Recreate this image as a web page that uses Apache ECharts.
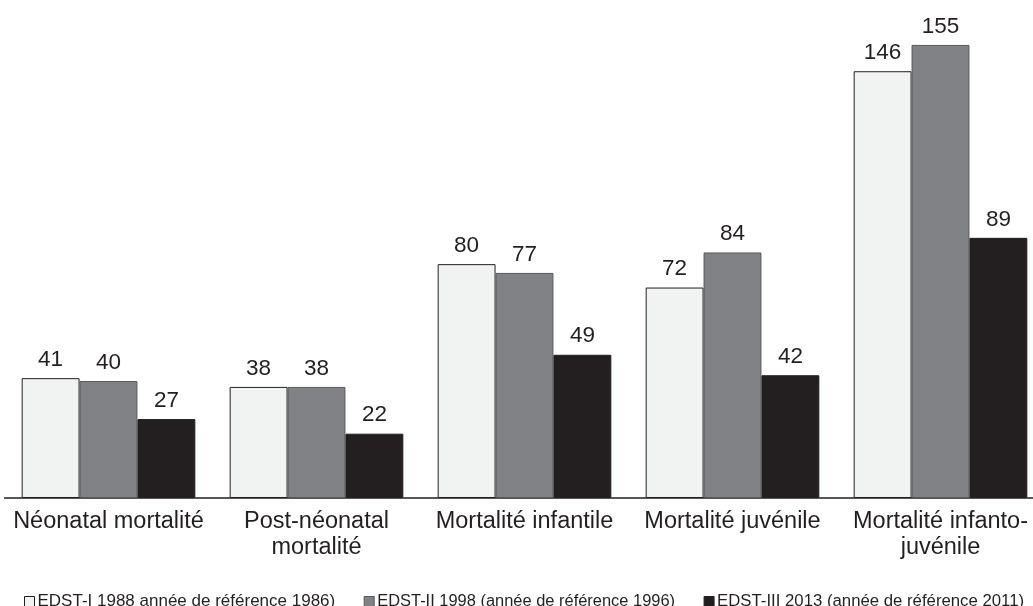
<!DOCTYPE html>
<html>
<head>
<meta charset="utf-8">
<script src="https://cdn.jsdelivr.net/npm/echarts@6/dist/echarts.min.js"></script>
<style>
  html, body { margin: 0; padding: 0; background: #ffffff; }
  #chart { width: 1033px; height: 606px; }
</style>
</head>
<body>
<div id="chart"></div>
<script>
// Taux de mortalité des enfants (pour 1000) selon l'enquête
const categories = [
  'Néonatal mortalité',
  'Post-néonatal\nmortalité',
  'Mortalité infantile',
  'Mortalité juvénile',
  'Mortalité infanto-\njuvénile'
];
const seriesNames = [
  'EDST-I 1988 année de référence 1986)',
  'EDST-II 1998 (année de référence 1996)',
  'EDST-III 2013 (année de référence 2011)'
];
const edst1 = [41, 38, 80, 72, 146];
const edst2 = [40, 38, 77, 84, 155];
const edst3 = [27, 22, 49, 42, 89];

const fills = ['#f1f2f2', '#808285', '#231f20'];
const borders = ['#231f20', '#58595b', '#231f20'];
const legendSizes = [17, 16.45, 16.75];
const font = '"Liberation Sans", Arial, sans-serif';
const textColor = '#231f20';

const chart = echarts.init(document.getElementById('chart'), null, { renderer: 'canvas' });

const values = [edst1, edst2, edst3];
const series = values.map((data, i) => ({
  name: seriesNames[i],
  type: 'bar',
  data: data,
  barGap: '0%',
  barCategoryGap: '16.5%',
  itemStyle: {
    color: fills[i],
    borderColor: borders[i],
    borderWidth: 1
  },
  label: {
    show: true,
    position: 'top',
    distance: 7,
    fontFamily: font,
    fontSize: 22.5,
    color: textColor
  },
  animation: false
}));

chart.setOption({
  backgroundColor: '#ffffff',
  animation: false,
  grid: {
    left: 4.5,
    width: 1040,
    top: 30.3,
    bottom: 108,
    containLabel: false,
    outerBoundsMode: 'none'
  },
  legend: {
    left: 19,
    top: 588,
    width: 1014,
    itemWidth: 10,
    itemHeight: 10,
    itemGap: 28.5,
    icon: 'rect',
    textStyle: {
      fontFamily: font,
      fontSize: 17,
      color: textColor,
      padding: [0, 0, 0, -2]
    },
    data: seriesNames.map((n, i) => ({
      name: n,
      itemStyle: { color: fills[i], borderColor: borders[i], borderWidth: 1 },
      textStyle: { fontSize: legendSizes[i] }
    }))
  },
  xAxis: {
    type: 'category',
    data: categories,
    axisLine: { show: true, lineStyle: { color: '#231f20', width: 1.5 } },
    axisTick: { show: false },
    axisLabel: {
      interval: 0,
      margin: 11,
      fontFamily: font,
      fontSize: 23.5,
      lineHeight: 26,
      color: textColor
    }
  },
  yAxis: {
    type: 'value',
    min: 0,
    max: 160,
    show: false,
    splitLine: { show: false }
  },
  series: series
});
</script>
</body>
</html>
